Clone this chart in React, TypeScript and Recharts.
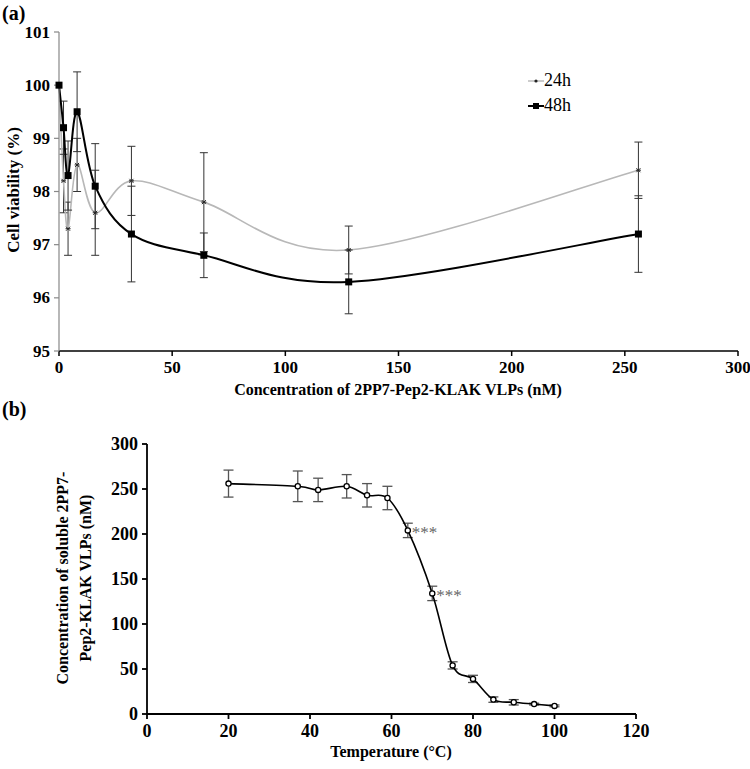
import React from 'react';
import { LineChart, Line, XAxis, YAxis, ErrorBar, LabelList } from 'recharts';

// panel (a): cell viability vs VLP concentration
const concentrations = [0, 2, 4, 8, 16, 32, 64, 128, 256];
const viability24h = [100, 98.2, 97.3, 98.5, 97.6, 98.2, 97.8, 96.9, 98.4];
const error24h = [0, 0.6, 0.5, 0.5, 0.8, 0.65, 0.93, 0.45, 0.53];
const viability48h = [100, 99.2, 98.3, 99.5, 98.1, 97.2, 96.8, 96.3, 97.2];
const error48h = [0, 0.5, 0.65, 0.75, 0.8, 0.9, 0.42, 0.6, 0.72];
const concTicks = [0, 50, 100, 150, 200, 250, 300];
const viabilityTicks = [95, 96, 97, 98, 99, 100, 101];

// panel (b): soluble VLPs vs temperature
const temperatures = [20, 37, 42, 49, 54, 59, 64, 70, 75, 80, 85, 90, 95, 100];
const soluble = [256, 253, 249, 253, 243, 240, 204, 134, 54, 39, 16, 13, 11, 9];
const solubleError = [15, 17, 13, 13, 13, 13, 8, 8, 4, 4, 3, 3, 1, 1];
const significance = ['', '', '', '', '', '', '***', '***', '', '', '', '', '', ''];
const tempTicks = [0, 20, 40, 60, 80, 100, 120];
const solubleTicks = [0, 50, 100, 150, 200, 250, 300];

const dataA = concentrations.map((c, i) => ({
  conc: c,
  v24: viability24h[i],
  e24: error24h[i],
  v48: viability48h[i],
  e48: error48h[i],
}));

const dataB = temperatures.map((t, i) => ({
  temp: t,
  value: soluble[i],
  err: solubleError[i],
  sig: significance[i],
}));

const SERIF = "'Liberation Serif', 'Times New Roman', Times, serif";

// Excel-style smoothed line (Catmull-Rom through the points)
const excelSmooth = (context: any) => {
  let px: number[] = [];
  let py: number[] = [];
  return {
    areaStart() {},
    areaEnd() {},
    lineStart() {
      px = [];
      py = [];
    },
    point(x: number, y: number) {
      px.push(+x);
      py.push(+y);
    },
    lineEnd() {
      const n = px.length;
      if (!n) return;
      context.moveTo(px[0], py[0]);
      for (let i = 0; i < n - 1; i++) {
        const a = Math.max(i - 1, 0);
        const d = Math.min(i + 2, n - 1);
        context.bezierCurveTo(
          px[i] + (px[i + 1] - px[a]) / 6,
          py[i] + (py[i + 1] - py[a]) / 6,
          px[i + 1] - (px[d] - px[i]) / 6,
          py[i + 1] - (py[d] - py[i]) / 6,
          px[i + 1],
          py[i + 1]
        );
      }
    },
  };
};

const makeTick = (axis: 'x' | 'y', size: number) => (props: any) => {
  const { x, y, payload } = props;
  if (axis === 'x') {
    return (
      <text x={x} y={y + 3} textAnchor="middle" dominantBaseline="hanging" fontFamily={SERIF} fontWeight="bold" fontSize={size} fill="#000">
        {payload.value}
      </text>
    );
  }
  return (
    <text x={x - 2} y={y} textAnchor="end" dominantBaseline="central" fontFamily={SERIF} fontWeight="bold" fontSize={size} fill="#000">
      {payload.value}
    </text>
  );
};

const renderStar = (props: any) => {
  const { cx, cy, index } = props;
  if (cx == null || cy == null) return <g key={`s-${index}`} />;
  return (
    <g key={`s-${index}`} stroke="#222" strokeWidth={1}>
      <line x1={cx - 2.5} y1={cy} x2={cx + 2.5} y2={cy} />
      <line x1={cx - 2} y1={cy - 2} x2={cx + 2} y2={cy + 2} />
      <line x1={cx - 2} y1={cy + 2} x2={cx + 2} y2={cy - 2} />
    </g>
  );
};

const renderSquare = (props: any) => {
  const { cx, cy, index } = props;
  if (cx == null || cy == null) return <g key={`q-${index}`} />;
  return <rect key={`q-${index}`} x={cx - 3.5} y={cy - 3.5} width={7} height={7} fill="#000" />;
};

const renderCircle = (props: any) => {
  const { cx, cy, index } = props;
  if (cx == null || cy == null) return <g key={`c-${index}`} />;
  return <circle key={`c-${index}`} cx={cx} cy={cy} r={2.6} fill="#fff" stroke="#000" strokeWidth={1.3} />;
};

const renderSig = (props: any) => {
  const { x, y, value } = props;
  if (!value) return null;
  return (
    <text x={x + 4} y={y + 8} fontFamily={SERIF} fontSize={17} fill="#666">
      {value}
    </text>
  );
};

const LegendA = () => (
  <div style={{ position: 'absolute', left: 528, top: 68, fontFamily: SERIF, fontSize: 18, lineHeight: '25px', color: '#000' }}>
    <div style={{ display: 'flex', alignItems: 'center' }}>
      <svg width={16} height={10}>
        <line x1={0} y1={5} x2={16} y2={5} stroke="#aaa" strokeWidth={1.2} />
        <circle cx={8} cy={5} r={1.6} fill="#222" />
      </svg>
      <span>24h</span>
    </div>
    <div style={{ display: 'flex', alignItems: 'center' }}>
      <svg width={16} height={10}>
        <line x1={0} y1={5} x2={16} y2={5} stroke="#000" strokeWidth={2} />
        <rect x={5} y={2} width={6} height={6} fill="#000" />
      </svg>
      <span>48h</span>
    </div>
  </div>
);

const titleStyle: React.CSSProperties = {
  position: 'absolute',
  fontFamily: SERIF,
  fontWeight: 'bold',
  color: '#000',
  whiteSpace: 'nowrap',
};

export default function App() {
  return (
    <div style={{ position: 'absolute', left: 0, top: 0, width: 750, height: 769, background: '#fff' }}>
      <div style={{ position: 'absolute', left: 0, top: 0 }}>
        <LineChart width={750} height={400} data={dataA} margin={{ top: 32, right: 12, bottom: 19, left: 0 }}>
          <XAxis
            dataKey="conc"
            type="number"
            domain={[0, 300]}
            ticks={concTicks}
            height={30}
            stroke="#000"
            strokeWidth={1.5}
            tickSize={5}
            tick={makeTick('x', 17)}
          />
          <YAxis
            type="number"
            domain={[95, 101]}
            ticks={viabilityTicks}
            width={59}
            stroke="#888"
            strokeWidth={1.2}
            tickSize={5}
            tick={makeTick('y', 17)}
          />
          <Line
            dataKey="v24"
            type={excelSmooth as any}
            stroke="#b8b8b8"
            strokeWidth={1.6}
            dot={renderStar}
            activeDot={false}
            isAnimationActive={false}
          >
            <ErrorBar dataKey="e24" direction="y" width={4} stroke="#333" strokeWidth={1} isAnimationActive={false} />
          </Line>
          <Line
            dataKey="v48"
            type={excelSmooth as any}
            stroke="#000"
            strokeWidth={2}
            dot={renderSquare}
            activeDot={false}
            isAnimationActive={false}
          >
            <ErrorBar dataKey="e48" direction="y" width={4} stroke="#333" strokeWidth={1} isAnimationActive={false} />
          </Line>
        </LineChart>
      </div>
      <LegendA />
      <div style={{ ...titleStyle, left: 2, top: 2, fontSize: 20 }}>(a)</div>
      <div
        style={{
          ...titleStyle,
          left: 14,
          top: 190,
          fontSize: 17,
          transform: 'translate(-50%, -50%) rotate(-90deg)',
        }}
      >
        Cell viability (%)
      </div>
      <div style={{ ...titleStyle, left: 398, top: 390, fontSize: 16, transform: 'translate(-50%, -50%)' }}>
        Concentration of 2PP7-Pep2-KLAK VLPs (nM)
      </div>

      <div style={{ position: 'absolute', left: 0, top: 400 }}>
        <LineChart width={750} height={350} data={dataB} margin={{ top: 44, right: 114, bottom: 6, left: 0 }}>
          <XAxis
            dataKey="temp"
            type="number"
            domain={[0, 120]}
            ticks={tempTicks}
            height={30}
            stroke="#000"
            strokeWidth={1.8}
            tickSize={5}
            tick={makeTick('x', 18)}
          />
          <YAxis
            type="number"
            domain={[0, 300]}
            ticks={solubleTicks}
            width={147}
            stroke="#000"
            strokeWidth={1.8}
            tickSize={5}
            tick={makeTick('y', 18)}
          />
          <Line
            dataKey="value"
            type={excelSmooth as any}
            stroke="#000"
            strokeWidth={1.6}
            dot={renderCircle}
            activeDot={false}
            isAnimationActive={false}
          >
            <ErrorBar dataKey="err" direction="y" width={5} stroke="#555" strokeWidth={1.3} isAnimationActive={false} />
            <LabelList dataKey="sig" content={renderSig} />
          </Line>
        </LineChart>
      </div>
      <div style={{ ...titleStyle, left: 2, top: 398, fontSize: 20 }}>(b)</div>
      <div
        style={{
          ...titleStyle,
          left: 74,
          top: 578,
          fontSize: 16,
          lineHeight: '23px',
          textAlign: 'center',
          transform: 'translate(-50%, -50%) rotate(-90deg)',
        }}
      >
        Concentration of soluble 2PP7-
        <br />
        Pep2-KLAK VLPs (nM)
      </div>
      <div style={{ ...titleStyle, left: 391, top: 752, fontSize: 16, transform: 'translate(-50%, -50%)' }}>
        Temperature (°C)
      </div>
    </div>
  );
}
